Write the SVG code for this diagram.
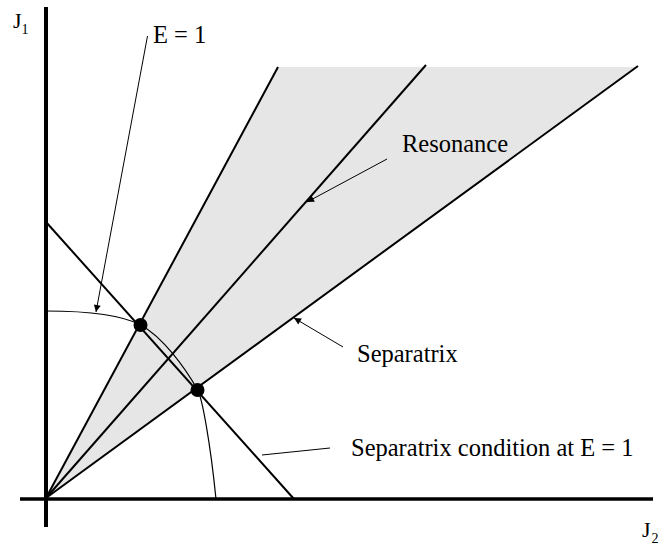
<svg xmlns="http://www.w3.org/2000/svg" width="660" height="545" viewBox="0 0 660 545">
<defs>
<style>
.ax{stroke:#000;stroke-width:3.5;fill:none}
.ln{stroke:#000;stroke-width:2;fill:none}
.cv{stroke:#000;stroke-width:1.2;fill:none}
.ld{stroke:#000;stroke-width:1;fill:none}
.lbl{font-family:"Liberation Serif","Times New Roman",serif;font-size:24.5px;fill:#000}
.ax-l{font-family:"Liberation Serif","Times New Roman",serif;font-size:22px;fill:#000}
.sub{font-family:"Liberation Serif","Times New Roman",serif;font-size:14px;fill:#000}
</style>
<marker id="ah" viewBox="0 0 10 10" refX="10" refY="5" markerWidth="9" markerHeight="7" markerUnits="userSpaceOnUse" orient="auto">
<path d="M0,0 L10,5 L0,10 Z" fill="#000"/>
</marker>
</defs>
<rect width="660" height="545" fill="#fff"/>
<g id="resonance-region">
<polygon points="46,498 278,67 638,67" fill="#e6e6e6"/>
</g>
<g id="axes">
<line class="ax" x1="46" y1="7" x2="46" y2="527" style="stroke-width:4"/>
<line class="ax" x1="20" y1="499" x2="653" y2="499"/>
<text class="ax-l" x="13" y="28">J</text><text class="sub" x="21.5" y="34">1</text>
<text class="ax-l" x="642" y="537">J</text><text class="sub" x="651.5" y="543">2</text>
</g>
<g id="lines">
<line class="ln" x1="46" y1="498" x2="278" y2="67"/>
<line class="ln" x1="46" y1="498" x2="426" y2="65"/>
<line class="ln" x1="46" y1="498" x2="638" y2="66"/>
<line class="ln" x1="46" y1="222" x2="294" y2="499"/>
</g>
<g id="energy-curve">
<path class="cv" d="M46,311 C80,311 118,313 140.7,325 C162.7,337 184.7,367.3 197.7,390 C202,398 210,440 216,499"/>
</g>
<g id="points">
<circle cx="140.5" cy="325" r="7"/>
<circle cx="197.5" cy="390" r="7"/>
</g>
<g id="connectors">
<line class="ld" x1="147.5" y1="36" x2="96" y2="312" marker-end="url(#ah)"/>
<line class="ld" x1="387" y1="159" x2="307" y2="202" marker-end="url(#ah)"/>
<line class="ld" x1="343" y1="347" x2="294" y2="318" marker-end="url(#ah)"/>
<line class="ld" x1="330" y1="448" x2="262" y2="455"/>
</g>
<g id="label-e1"><text class="lbl" x="153" y="43">E = 1</text></g>
<g id="label-resonance"><text class="lbl" x="402" y="152">Resonance</text></g>
<g id="label-separatrix"><text class="lbl" x="357" y="362">Separatrix</text></g>
<g id="label-condition"><text class="lbl" x="351" y="456">Separatrix condition at E = 1</text></g>
</svg>
